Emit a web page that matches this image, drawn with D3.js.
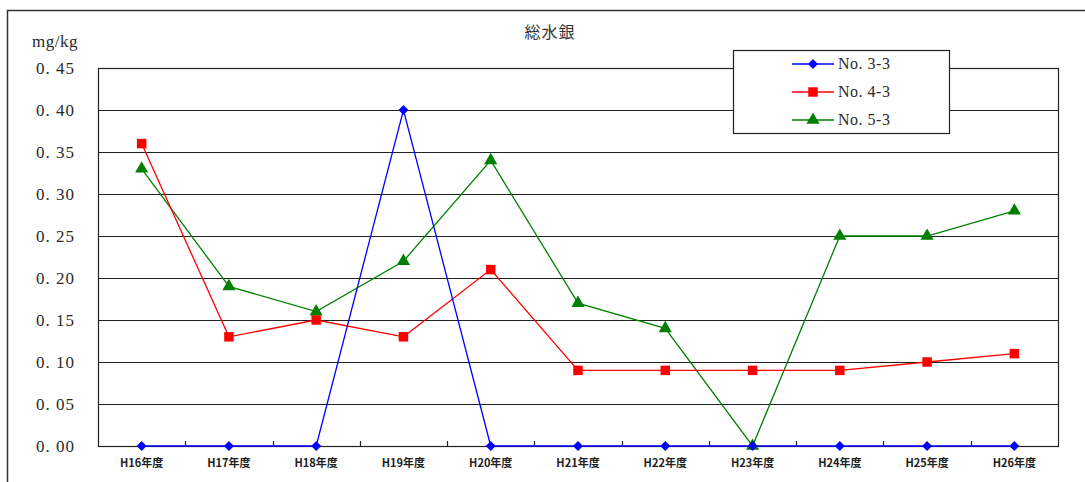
<!DOCTYPE html>
<html lang="ja">
<head>
<meta charset="UTF-8">
<title>総水銀</title>
<style>
  html, body { margin: 0; padding: 0; background: #fff; }
  svg { display: block; }
</style>
</head>
<body>
<div id="chart"></div>
<script src="https://d3js.org/d3.v7.min.js"></script>
<script>
// data
var categories = ["H16年度", "H17年度", "H18年度", "H19年度", "H20年度", "H21年度",
                  "H22年度", "H23年度", "H24年度", "H25年度", "H26年度"];
var seriesNames = ["No. 3-3", "No. 4-3", "No. 5-3"];
var no33 = [0, 0, 0, 0.40, 0, 0, 0, 0, 0, 0, 0];
var no43 = [0.36, 0.13, 0.15, 0.13, 0.21, 0.09, 0.09, 0.09, 0.09, 0.10, 0.11];
var no53 = [0.33, 0.19, 0.16, 0.22, 0.34, 0.17, 0.14, 0.00, 0.25, 0.25, 0.28];
var yTicks = [0, 0.05, 0.10, 0.15, 0.20, 0.25, 0.30, 0.35, 0.40, 0.45];

var W = 1085, H = 482;
var margin = {top: 68, right: 27, bottom: 36, left: 98};
var width = W - margin.left - margin.right,
    height = H - margin.top - margin.bottom;

var svg = d3.select("#chart").append("svg")
  .attr("width", W)
  .attr("height", H);

// outer frame (only left and top edges are visible in the crop)
svg.append("path")
  .attr("d", "M7.5," + H + "V10.5H" + W)
  .attr("fill", "none")
  .attr("stroke", "#333")
  .attr("stroke-width", 1.5);

var g = svg.append("g")
  .attr("transform", "translate(" + margin.left + "," + margin.top + ")");

var x = d3.scaleBand().domain(categories).range([0, width]);
var y = d3.scaleLinear().domain([0, 0.45]).range([height, 0]);

// gridlines
g.selectAll(".grid")
  .data(yTicks)
  .enter().append("line")
    .attr("class", "grid")
    .attr("x1", 0).attr("x2", width)
    .attr("y1", d => Math.round(y(d)) + 0.5)
    .attr("y2", d => Math.round(y(d)) + 0.5)
    .attr("stroke", "#222")
    .attr("stroke-width", 1.2);

// plot border
g.append("rect")
  .attr("x", 0.5).attr("y", 0.5)
  .attr("width", width).attr("height", height)
  .attr("fill", "none")
  .attr("stroke", "#222")
  .attr("stroke-width", 1.2);

var serif = "'Liberation Serif', 'DejaVu Serif', serif";

// y axis labels
g.selectAll(".ylab")
  .data(yTicks)
  .enter().append("text")
    .attr("x", -23)
    .attr("y", d => y(d) + 6)
    .attr("text-anchor", "end")
    .attr("font-family", serif)
    .attr("font-size", "17px")
    .attr("letter-spacing", "1px")
    .attr("fill", "#2a2a2a")
    .text(d => d3.format(".2f")(d).replace(".", ". "));

svg.append("text")
  .attr("x", 55).attr("y", 47)
  .attr("text-anchor", "middle")
  .attr("font-family", serif)
  .attr("font-size", "17px")
  .attr("letter-spacing", "0.5px")
  .attr("fill", "#2a2a2a")
  .text("mg/kg");

// x axis: ticks at the band boundaries, pointing inwards
var xBounds = categories.slice(1).map(c => x(c));
g.selectAll(".xtick")
  .data(xBounds)
  .enter().append("line")
    .attr("x1", d => Math.round(d) + 0.5)
    .attr("x2", d => Math.round(d) + 0.5)
    .attr("y1", height)
    .attr("y2", height - 5)
    .attr("stroke", "#222")
    .attr("stroke-width", 1.2);

g.selectAll(".xlab")
  .data(categories)
  .enter().append("text")
    .attr("x", d => x(d) + x.bandwidth() / 2)
    .attr("y", height + 21)
    .attr("text-anchor", "middle")
    .attr("font-family", "'Noto Sans CJK JP', sans-serif")
    .attr("font-size", "11px")
    .attr("font-weight", "bold")
    .attr("fill", "#222")
    .text(d => d);

// title
svg.append("text")
  .attr("x", 550).attr("y", 38)
  .attr("text-anchor", "middle")
  .attr("font-family", "'Noto Sans CJK JP', sans-serif")
  .attr("font-size", "16px")
  .attr("fill", "#333")
  .attr("letter-spacing", "1px")
  .text("総水銀");

var series = [
  {name: seriesNames[0], values: no33, color: "#0000ff", marker: d3.symbolSquare, size: 50, rot: 45},
  {name: seriesNames[1], values: no43, color: "#ff0000", marker: d3.symbolSquare, size: 90, rot: 0},
  {name: seriesNames[2], values: no53, color: "#008000", marker: d3.symbolTriangle, size: 75, rot: 0}
];

var line = d3.line()
  .x((d, i) => x(categories[i]) + x.bandwidth() / 2)
  .y(d => y(d));

// draw later series first so No. 3-3 sits on top along the zero line
series.slice().reverse().forEach(function(s) {
  g.append("path")
    .datum(s.values)
    .attr("d", line)
    .attr("fill", "none")
    .attr("stroke", s.color)
    .attr("stroke-width", 1.3);
  g.selectAll(null)
    .data(s.values)
    .enter().append("path")
      .attr("d", d3.symbol().type(s.marker).size(s.size))
      .attr("transform", (d, i) => "translate(" + (x(categories[i]) + x.bandwidth() / 2) + "," + y(d) + ") rotate(" + s.rot + ")")
      .attr("fill", s.color);
});

// legend
var lg = svg.append("g").attr("transform", "translate(733,50)");
lg.append("rect")
  .attr("x", 0.5).attr("y", 0.5)
  .attr("width", 216).attr("height", 83)
  .attr("fill", "#fff")
  .attr("stroke", "#222")
  .attr("stroke-width", 1.2);

var item = lg.selectAll(".item")
  .data(series)
  .enter().append("g")
    .attr("transform", (d, i) => "translate(0," + (14 + i * 28) + ")");
item.append("line")
  .attr("x1", 59).attr("x2", 101)
  .attr("y1", 0).attr("y2", 0)
  .attr("stroke", d => d.color)
  .attr("stroke-width", 1.3);
item.append("path")
  .attr("d", d => d3.symbol().type(d.marker).size(d.size)())
  .attr("transform", d => "translate(80,0) rotate(" + d.rot + ")")
  .attr("fill", d => d.color);
item.append("text")
  .attr("x", 105).attr("y", 5)
  .attr("font-family", serif)
  .attr("font-size", "16px")
  .attr("letter-spacing", "0.5px")
  .attr("fill", "#2a2a2a")
  .text(d => d.name);
</script>
</body>
</html>
